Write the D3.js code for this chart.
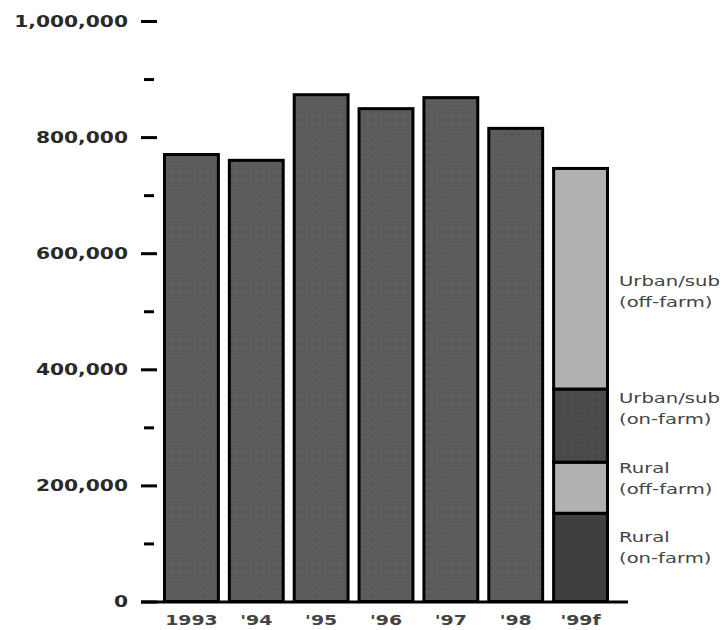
<!DOCTYPE html>
<html>
<head>
<meta charset="utf-8">
<script src="https://cdn.jsdelivr.net/npm/d3@7"></script>
<style>
  html, body { margin: 0; padding: 0; background: #ffffff; }
  svg { display: block; }
  text { font-family: "DejaVu Sans", sans-serif; }
</style>
</head>
<body>
<script>
// ---- data ----
const categories = ["1993", "'94", "'95", "'96", "'97", "'98", "'99f"];
const totals = [770000, 760000, 873000, 849000, 868000, 815000, null];
const forecastSegments = ["Rural (on-farm)", "Rural (off-farm)", "Urban/sub (on-farm)", "Urban/sub (off-farm)"];
const forecastValues = [152000, 88000, 126000, 380000];
const yMajorTicks = [0, 200000, 400000, 600000, 800000, 1000000];
const yMinorTicks = [100000, 300000, 500000, 700000, 900000];
const segmentLabels = [["Rural", "(on-farm)"], ["Rural", "(off-farm)"], ["Urban/sub", "(on-farm)"], ["Urban/sub", "(off-farm)"]];

// ---- layout ----
const W = 725, H = 630;
const SX = 1.35; // horizontal stretch of the lettering
const svg = d3.select("body").append("svg").attr("width", W).attr("height", H);

const defs = svg.append("defs");
function dotPattern(id, base, dotA, dotB) {
  const p = defs.append("pattern").attr("id", id).attr("patternUnits", "userSpaceOnUse")
    .attr("width", 7).attr("height", 7);
  p.append("rect").attr("width", 7).attr("height", 7).attr("fill", base);
  p.append("rect").attr("x", 0).attr("y", 0).attr("width", 2).attr("height", 2).attr("fill", dotA);
  p.append("rect").attr("x", 3.5).attr("y", 3.5).attr("width", 2).attr("height", 2).attr("fill", dotB);
}
dotPattern("dotsMain", "#5c5c5c", "#4d574d", "#625866");
dotPattern("dotsDark", "#4a4a4a", "#3f4a3f", "#524a55");

const y = d3.scaleLinear().domain([0, 1000000]).range([601.5, 21]);
const x = d3.scaleBand().domain(categories).range([163, 609]).paddingInner(8 / 65).paddingOuter(0);

// ---- y axis (major) ----
const yMaj = svg.append("g").attr("transform", "translate(157,0)")
  .call(d3.axisLeft(y).tickValues(yMajorTicks).tickSize(16).tickPadding(0)
    .tickFormat(d3.format(",")));
yMaj.select(".domain").remove();
yMaj.selectAll(".tick line").attr("stroke", "#000").attr("stroke-width", 3);
yMaj.selectAll(".tick text")
  .attr("x", 0).attr("dy", "0.36em")
  .attr("transform", `translate(-29,0) scale(${SX},1)`)
  .attr("font-size", 15).attr("font-weight", "bold").attr("fill", "#2a2a2a")
  .attr("font-family", "DejaVu Sans, sans-serif");

// ---- y axis (minor) ----
const yMin = svg.append("g").attr("transform", "translate(154,0)")
  .call(d3.axisLeft(y).tickValues(yMinorTicks).tickSize(10).tickFormat(""));
yMin.select(".domain").remove();
yMin.selectAll(".tick line").attr("stroke", "#000").attr("stroke-width", 3);

// ---- historical bars ----
const sw = 3;
const histData = categories.map((c, i) => ({ c, v: totals[i] })).filter(d => d.v !== null);
svg.append("g").selectAll("rect").data(histData).join("rect")
  .attr("x", d => x(d.c) + sw / 2)
  .attr("width", x.bandwidth() - sw)
  .attr("y", d => y(d.v))
  .attr("height", d => y(0) - y(d.v))
  .attr("fill", "url(#dotsMain)")
  .attr("stroke", "#000").attr("stroke-width", sw);

// ---- forecast stacked bar ----
const fcCat = categories[categories.length - 1];
const segFills = ["#3f3f3f", "#b1b1b1", "url(#dotsDark)", "#b1b1b1"];
let cum = 0;
const stackData = forecastValues.map((v, i) => {
  const d = { i, y0: cum, y1: cum + v };
  cum += v;
  return d;
});
svg.append("g").selectAll("rect").data(stackData).join("rect")
  .attr("x", x(fcCat) + sw / 2)
  .attr("width", x.bandwidth() - sw)
  .attr("y", d => y(d.y1))
  .attr("height", d => y(d.y0) - y(d.y1))
  .attr("fill", d => segFills[d.i])
  .attr("stroke", "#000").attr("stroke-width", sw);

// ---- x axis ----
const xAx = svg.append("g").attr("transform", `translate(0,${y(0)})`)
  .call(d3.axisBottom(x).tickSize(0).tickPadding(0));
xAx.select(".domain").remove();
xAx.selectAll(".tick text")
  .attr("y", 0).attr("dy", 0)
  .attr("transform", `translate(0,23) scale(${SX},1)`)
  .attr("font-size", 14).attr("font-weight", "bold").attr("fill", "#444")
  .attr("font-family", "DejaVu Sans, sans-serif");
svg.append("line")
  .attr("x1", 141).attr("x2", 628)
  .attr("y1", y(0) + 0.5).attr("y2", y(0) + 0.5)
  .attr("stroke", "#000").attr("stroke-width", 3);

// ---- segment labels ----
const labelCenters = [547, 478, 408, 291];
const lab = svg.append("g");
segmentLabels.forEach((lines, i) => {
  lines.forEach((t, j) => {
    lab.append("text")
      .attr("transform", `translate(619,${labelCenters[i] - 10 + j * 21}) scale(1.4,1)`)
      .attr("dy", "0.36em")
      .attr("font-size", 14).attr("fill", "#444")
      .text(t);
  });
});
</script>
</body>
</html>
